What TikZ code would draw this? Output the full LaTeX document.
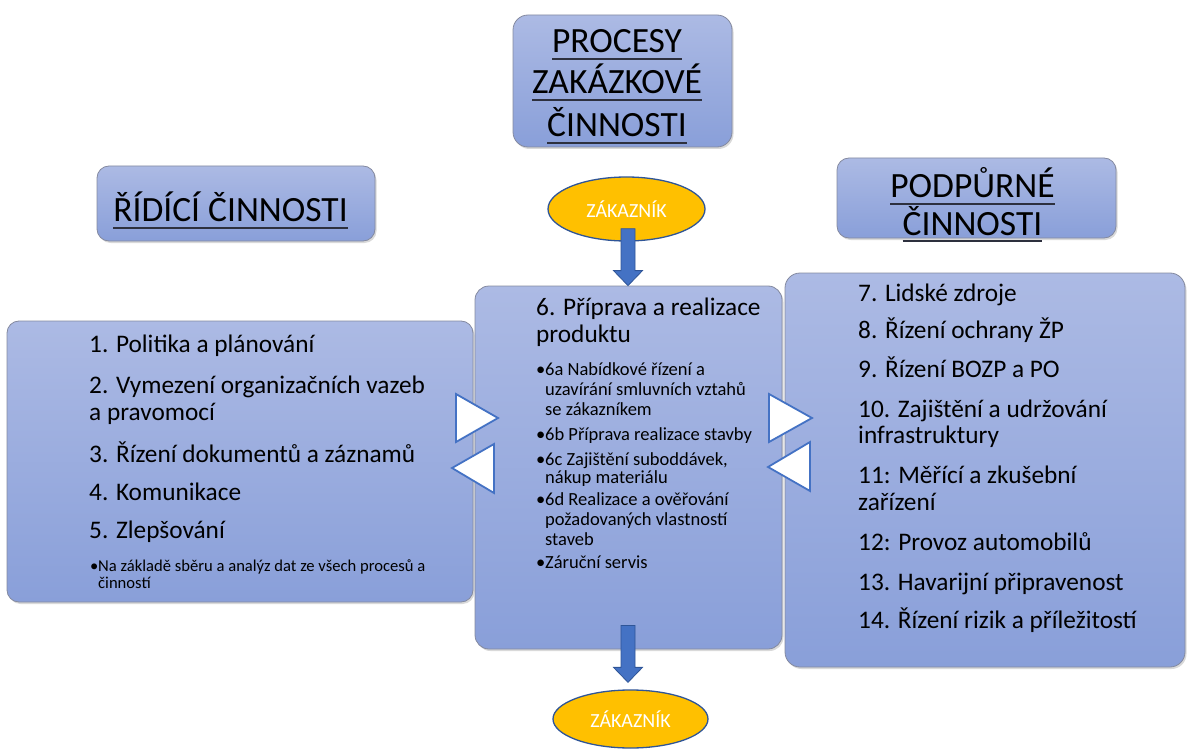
\documentclass[tikz,border=0pt]{standalone}
\usepackage{fontspec}
\setmainfont{Carlito}
\usetikzlibrary{shadows,calc,shapes.geometric}

\definecolor{boxtop}{RGB}{172,186,228}
\definecolor{boxbot}{RGB}{137,159,217}
\definecolor{boxline}{RGB}{132,138,160}
\definecolor{arrowblue}{RGB}{68,114,196}
\definecolor{arrowedge}{RGB}{47,85,151}
\definecolor{gold}{RGB}{255,192,0}
\definecolor{ulcol}{RGB}{45,48,62}

% underlined heading line
\newcommand\headul[1]{\sbox0{#1}\rlap{\color{ulcol}\rule[-7pt]{\wd0}{1.8pt}}\usebox0}

% block arrow from a start point down to a tip point
\newcommand\blockarrow[2]{%
  \draw[barrow] let \p1=(#1), \p2=(#2) in
    (\x1-7pt,\y1) -- (\x1+7pt,\y1) -- (\x1+7pt,\y2+15pt) -- (\x1+14.5pt,\y2+15pt)
    -- (\x1,\y2) -- (\x1-14.5pt,\y2+15pt) -- (\x1-7pt,\y2+15pt) -- cycle;}

\tikzset{
  panel/.style={draw=boxline, line width=0.8pt, rounded corners=#1,
    top color=boxtop, bottom color=boxbot, inner sep=0pt,
    drop shadow={opacity=0.3, shadow xshift=1.5pt, shadow yshift=-2pt}},
  panel/.default=14pt,
  customer/.style={ellipse, draw=arrowedge, line width=1.3pt, fill=gold,
    inner sep=0pt, text=white, font=\fontsize{20}{23}\selectfont},
  barrow/.style={draw=arrowedge, fill=arrowblue, line width=0.8pt},
  flowtri/.style={draw=arrowblue, fill=white, line width=1.8pt, line join=miter},
  heading/.style={anchor=base, inner sep=0pt, font=\fontsize{35.5}{40}\selectfont},
  body/.style={anchor=base west, inner sep=0pt, font=\fontsize{25.3}{30}\selectfont},
  small/.style={anchor=base west, inner sep=0pt, font=\fontsize{18.5}{20}\selectfont},
  tiny/.style={anchor=base west, inner sep=0pt, font=\fontsize{16.6}{19}\selectfont},
}

\begin{document}
\begin{tikzpicture}[x=1pt, y=-1pt]
\useasboundingbox (0,0) rectangle (1187,749);

% panels
\node[panel=15pt, minimum width=219pt, minimum height=132pt] (proc) at (622.5,81) {};
\node[panel=12pt, minimum width=278pt, minimum height=75pt] (ridi) at (236,203.5) {};
\node[panel=12pt, minimum width=279pt, minimum height=80pt] (podp) at (976.5,198) {};
\node[panel=12pt, minimum width=466pt, minimum height=281pt] (left) at (240,461.5) {};
\node[panel=14pt, minimum width=307pt, minimum height=363pt] (prod) at (628.5,467.5) {};
\node[panel=15pt, minimum width=400pt, minimum height=394pt] (right) at (985,470) {};

% headings
\node[heading] (h1) at (617,53) {\headul{PROCESY}};
\node[heading] (h2) at (617,94) {\headul{ZAKÁZKOVÉ}};
\node[heading] (h3) at (617,137) {\headul{ČINNOSTI}};
\node[heading] (h4) at (230.5,222) {\headul{ŘÍDÍCÍ ČINNOSTI}};
\node[heading] (h5) at (972.5,198) {\headul{PODPŮRNÉ}};
\node[heading] (h6) at (972.5,235) {\headul{ČINNOSTI}};

% customers
\node[customer, minimum width=157pt, minimum height=64pt] (zak1) at (626.5,209) {ZÁKAZNÍK};
\node[customer, minimum width=155pt, minimum height=58pt] (zak2) at (630.5,719) {ZÁKAZNÍK};

% flow arrows
\coordinate (a1s) at ($(zak1.south)+(1.5,-13)$);
\coordinate (a1e) at (a1s |- prod.north);
\blockarrow{a1s}{a1e}
\coordinate (a2s) at ($(prod.south)+(-0.5,-24)$);
\coordinate (a2e) at ($(a2s |- zak2.north)+(0,-7)$);
\blockarrow{a2s}{a2e}

% managing activities
\node[body] (l1) at (89,352) {1. Politika a plánování};
\node[body] (l2) at (89,393) {2. Vymezení organizačních vazeb};
\node[body] (l2b) at (89,420) {a pravomocí};
\node[body] (l3) at (89,462) {3. Řízení dokumentů a záznamů};
\node[body] (l4) at (89,500) {4. Komunikace};
\node[body] (l5) at (89,538) {5. Zlepšování};
\node[tiny] (lb) at (90,571) {•};
\node[tiny] (l6) at (98,571) {Na základě sběru a analýz dat ze všech procesů a};
\node[tiny] (l6b) at (98,588) {činností};

% product realisation
\node[body] (p1) at (536,315) {6. Příprava a realizace};
\node[body] (p1b) at (536,342) {produktu};
\foreach \y [count=\i] in {375.5,440.5,465.5,505,568}
  \node[small] (pb\i) at (536,\y) {•};
\node[small] (p2) at (545,375.5) {6a Nabídkové řízení a};
\node[small] (p2b) at (545,395.5) {uzavírání smluvních vztahů};
\node[small] (p2c) at (545,415.5) {se zákazníkem};
\node[small] (p3) at (545,440.5) {6b Příprava realizace stavby};
\node[small] (p4) at (545,465.5) {6c Zajištění suboddávek,};
\node[small] (p4b) at (545,483.5) {nákup materiálu};
\node[small] (p5) at (545,505) {6d Realizace a ověřování};
\node[small] (p5b) at (545,525.5) {požadovaných vlastností};
\node[small] (p5c) at (545,545.5) {staveb};
\node[small] (p6) at (545,568) {Záruční servis};

% supporting activities
\node[body] (r1) at (858,301) {7. Lidské zdroje};
\node[body] (r2) at (858,338) {8. Řízení ochrany ŽP};
\node[body] (r3) at (858,377) {9. Řízení BOZP a PO};
\node[body] (r4) at (858,417) {10. Zajištění a udržování};
\node[body] (r4b) at (858,443) {infrastruktury};
\node[body] (r5) at (858,483) {11: Měřící a zkušební};
\node[body] (r5b) at (858,510) {zařízení};
\node[body] (r6) at (858,550) {12: Provoz automobilů};
\node[body] (r7) at (858,590) {13. Havarijní připravenost};
\node[body] (r8) at (858,628) {14. Řízení rizik a příležitostí};

% exchange triangles
\draw[flowtri] (456,394) -- (456,442) -- (498,418) -- cycle;
\draw[flowtri] (494,444) -- (494,493) -- (452,468) -- cycle;
\draw[flowtri] (769,394) -- (769,442) -- (812,418) -- cycle;
\draw[flowtri] (810,442) -- (810,491) -- (768,467) -- cycle;
\end{tikzpicture}
\end{document}
